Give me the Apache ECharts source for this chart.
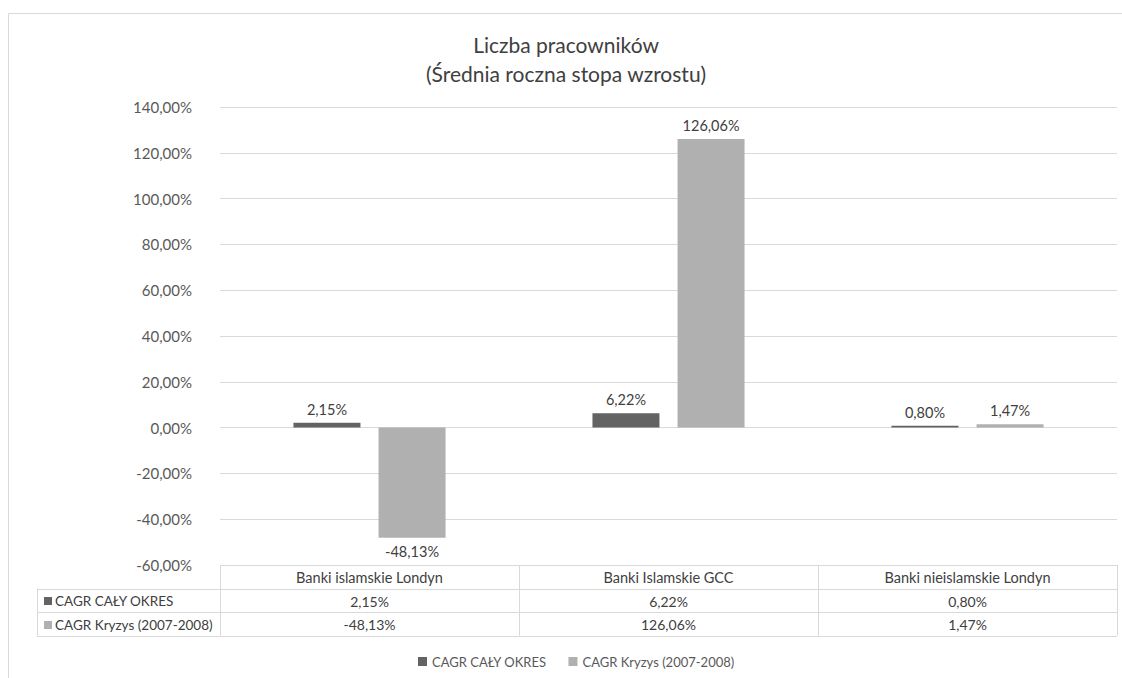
<!DOCTYPE html>
<html>
<head>
<meta charset="utf-8">
<script src="https://cdn.jsdelivr.net/npm/echarts@6/dist/echarts.min.js"></script>
<style>
  html, body { margin: 0; padding: 0; background: #fff; }
  #chart { width: 1122px; height: 678px; }
</style>
</head>
<body>
<div id="chart"></div>
<script>
const categories = ['Banki islamskie Londyn', 'Banki Islamskie GCC', 'Banki nieislamskie Londyn'];
const seriesNames = ['CAGR CAŁY OKRES', 'CAGR Kryzys (2007-2008)'];
const cagrTotal = [2.15, 6.22, 0.80];
const cagrCrisis = [-48.13, 126.06, 1.47];
const seriesColors = ['#636363', '#b0b0b0'];

// plot area edges (px), table sits under it
const gridLeft = 220;
const gridRight = 1117;
const gridTop = 107;
const gridBottom = 565;
const tableLeft = 37;
const rowH = 23.5;

const fmt = (v) => v.toFixed(2).replace('.', ',') + '%';
const fontFamily = 'Lato, "Open Sans", sans-serif';
const lineColor = '#d9d9d9';

const toData = (arr) => arr.map((v) => ({
  value: v,
  label: { position: v < 0 ? 'bottom' : 'top' },
}));

const buildTable = () => {
  const els = [];
  const colW = (gridRight - gridLeft) / categories.length;
  const line = (x1, y1, x2, y2) => ({
    type: 'line', silent: true,
    shape: { x1, y1, x2, y2 },
    style: { stroke: lineColor, lineWidth: 1 },
  });
  const text = (x, y, t, align, size) => ({
    type: 'text', silent: true, x, y,
    style: { text: t, fill: '#404040', font: size + 'px ' + fontFamily, textAlign: align, textVerticalAlign: 'middle' },
  });
  const y0 = gridBottom;
  const y1 = y0 + rowH;
  const y2 = y1 + rowH;
  const y3 = y2 + rowH;
  els.push(line(gridLeft, y0 + 0.5, gridRight, y0 + 0.5));
  [y1, y2, y3].forEach((y) => els.push(line(tableLeft, Math.round(y) + 0.5, gridRight, Math.round(y) + 0.5)));
  els.push(line(tableLeft + 0.5, y1, tableLeft + 0.5, y3));
  for (let i = 0; i <= categories.length; i++) {
    const x = Math.round(gridLeft + i * colW) + 0.5;
    els.push(line(x, y0, x, y3));
  }
  categories.forEach((c, i) => {
    const cx = gridLeft + (i + 0.5) * colW;
    els.push(text(cx, y0 + rowH / 2 + 1, c, 'center', 14.5));
    els.push(text(cx, y1 + rowH / 2 + 1, fmt(cagrTotal[i]), 'center', 14));
    els.push(text(cx, y2 + rowH / 2 + 1, fmt(cagrCrisis[i]), 'center', 14));
  });
  [y1, y2].forEach((y, k) => {
    els.push({
      type: 'rect', silent: true,
      shape: { x: 44, y: Math.round(y + rowH / 2 - 3), width: 8, height: 8 },
      style: { fill: seriesColors[k] },
    });
    els.push(text(55, y + rowH / 2 + 1, seriesNames[k], 'left', 13.5));
  });
  // outer chart frame
  els.push({
    type: 'rect', silent: true,
    shape: { x: 8.5, y: 13.5, width: 1200, height: 800 },
    style: { fill: 'none', stroke: lineColor, lineWidth: 1 },
  });
  return els;
};

const chart = echarts.init(document.getElementById('chart'), null, { renderer: 'svg' });

chart.setOption({
  animation: false,
  backgroundColor: '#fff',
  textStyle: { fontFamily },
  title: {
    text: 'Liczba pracowników\n(Średnia roczna stopa wzrostu)',
    left: 561,
    top: 25,
    textAlign: 'center',
    textStyle: { fontSize: 21, fontWeight: 'normal', color: '#404040', lineHeight: 29, fontFamily },
  },
  legend: {
    left: 413,
    top: 650,
    icon: 'rect',
    itemWidth: 9,
    itemHeight: 9,
    itemGap: 22,
    textStyle: { color: '#595959', fontSize: 13, fontFamily },
    data: seriesNames,
  },
  grid: {
    left: gridLeft,
    right: 1122 - gridRight,
    top: gridTop,
    bottom: 678 - gridBottom,
    containLabel: false,
  },
  xAxis: {
    type: 'category',
    data: categories,
    axisLine: { show: false },
    axisTick: { show: false },
    axisLabel: { show: false },
  },
  yAxis: {
    type: 'value',
    min: -60,
    max: 140,
    interval: 20,
    axisLine: { show: false },
    axisTick: { show: false },
    axisLabel: {
      color: '#595959',
      fontSize: 15,
      margin: 28,
      formatter: (v) => fmt(v),
    },
    splitLine: { lineStyle: { color: lineColor } },
  },
  series: [
    {
      name: seriesNames[0],
      type: 'bar',
      data: toData(cagrTotal),
      barWidth: 67,
      barGap: '27%',
      itemStyle: { color: seriesColors[0] },
      label: { show: true, color: '#404040', fontSize: 14.5, distance: 6, formatter: (p) => fmt(p.value) },
    },
    {
      name: seriesNames[1],
      type: 'bar',
      data: toData(cagrCrisis),
      barWidth: 67,
      barGap: '27%',
      itemStyle: { color: seriesColors[1] },
      label: { show: true, color: '#404040', fontSize: 14.5, distance: 6, formatter: (p) => fmt(p.value) },
    },
  ],
  graphic: buildTable(),
});
</script>
</body>
</html>
